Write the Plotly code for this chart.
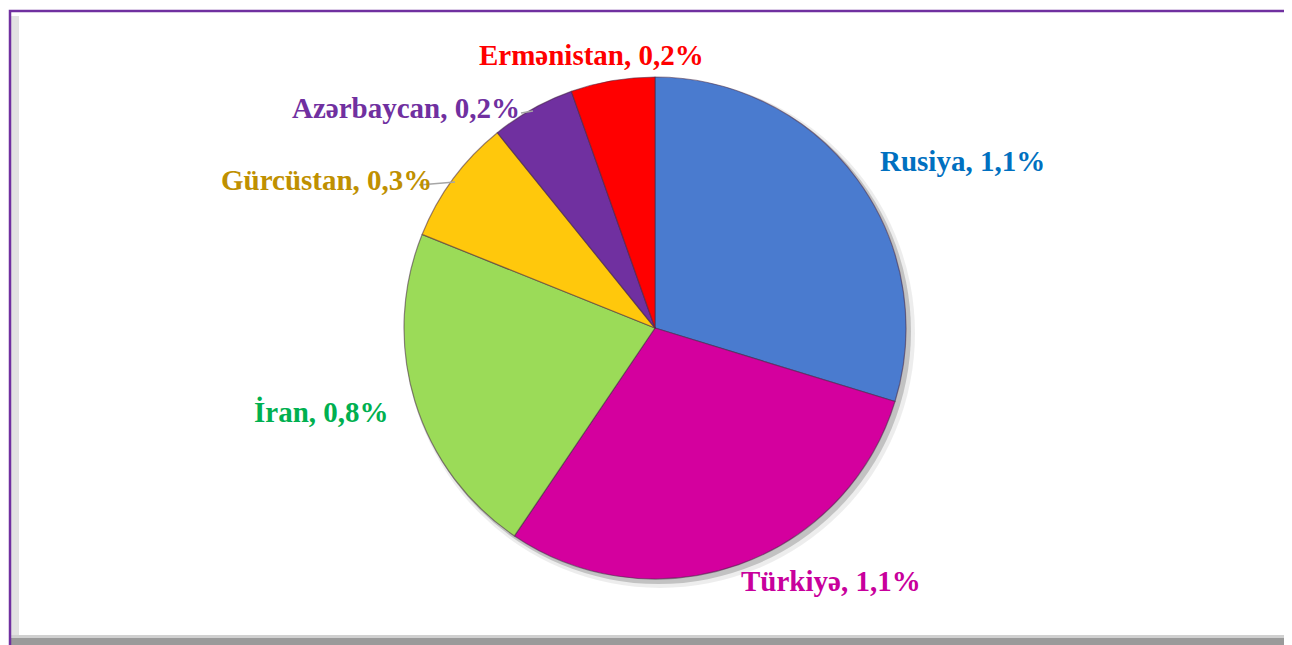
import plotly.graph_objects as go

countries = ["Rusiya", "Türkiyə", "İran", "Gürcüstan", "Azərbaycan", "Ermənistan"]
shares = [1.1, 1.1, 0.8, 0.3, 0.2, 0.2]
share_labels = ["1,1%", "1,1%", "0,8%", "0,3%", "0,2%", "0,2%"]
slice_colors = ["#4A7BCF", "#D4009E", "#9BDB58", "#FFC80C", "#7030A0", "#FF0000"]
label_colors = ["#0070C0", "#C8009C", "#00B050", "#BF9000", "#7030A0", "#FF0000"]

W, H = 1292, 645
OFF = 8  # page body margin
cx, cy, r = 655, 328, 251

def px(x):
    return (x - OFF) / W

def py(y):
    return 1 - (y - OFF) / H

fig = go.Figure()
fig.add_trace(go.Pie(
    labels=countries,
    values=shares,
    sort=False,
    direction="clockwise",
    rotation=0,
    textinfo="none",
    hoverinfo="label+value",
    marker=dict(colors=slice_colors, line=dict(color="rgba(70,40,70,0.55)", width=1.2)),
    domain=dict(x=[px(cx - r), px(cx + r)], y=[py(cy + r), py(cy - r)]),
    showlegend=False,
))

# label placement (pixel centers)
label_pos = {
    "Rusiya": (962, 161),
    "Türkiyə": (831, 581),
    "İran": (321, 412),
    "Gürcüstan": (326, 180),
    "Azərbaycan": (406, 108),
    "Ermənistan": (591, 55),
}
annotations = []
for name, val, col in zip(countries, share_labels, label_colors):
    x, y = label_pos[name]
    annotations.append(dict(
        x=px(x), y=py(y), xref="paper", yref="paper",
        text=f"<b>{name}, {val}</b>", showarrow=False,
        xanchor="center", yanchor="middle",
        font=dict(family="Liberation Serif", size=29, color=col),
    ))

shapes = [
    # pie shadow
    dict(type="circle", xref="paper", yref="paper", layer="below",
         x0=px(cx - r + 2), x1=px(cx + r + 5), y0=py(cy + r + 5), y1=py(cy - r + 2),
         fillcolor="rgba(0,0,0,0.18)", line=dict(width=0)),
    dict(type="circle", xref="paper", yref="paper", layer="below",
         x0=px(cx - r + 1), x1=px(cx + r + 9), y0=py(cy + r + 9), y1=py(cy - r + 1),
         fillcolor="rgba(0,0,0,0.07)", line=dict(width=0)),
    # frame inner shadows
    dict(type="rect", xref="paper", yref="paper", layer="below",
         x0=px(11), x1=px(19), y0=py(636), y1=py(16),
         fillcolor="#E2E2E2", line=dict(width=0)),
    dict(type="rect", xref="paper", yref="paper", layer="below",
         x0=px(1286), x1=px(1292), y0=py(636), y1=py(20),
         fillcolor="#DADADA", line=dict(width=0)),
    dict(type="rect", xref="paper", yref="paper", layer="below",
         x0=px(11), x1=px(1292), y0=py(645), y1=py(636),
         fillcolor="#9A9A9A", line=dict(width=0)),
    dict(type="rect", xref="paper", yref="paper", layer="below",
         x0=px(11), x1=px(1292), y0=py(638), y1=py(635),
         fillcolor="#D0D0D0", line=dict(width=0)),
    # purple frame
    dict(type="rect", xref="paper", yref="paper", layer="above",
         x0=px(10), x1=px(1300), y0=py(700), y1=py(11),
         line=dict(color="#7030A0", width=2.5)),
    # leader lines
    dict(type="line", xref="paper", yref="paper",
         x0=px(419), y0=py(185), x1=px(455), y1=py(182),
         line=dict(color="#A6A6A6", width=1.5)),
    dict(type="line", xref="paper", yref="paper",
         x0=px(521), y0=py(113), x1=px(533), y1=py(111),
         line=dict(color="#A6A6A6", width=1.5)),
]

fig.update_layout(
    width=W, height=H,
    margin=dict(l=0, r=0, t=0, b=0),
    paper_bgcolor="white",
    plot_bgcolor="white",
    annotations=annotations,
    shapes=shapes,
)

fig.write_html("out.html")
